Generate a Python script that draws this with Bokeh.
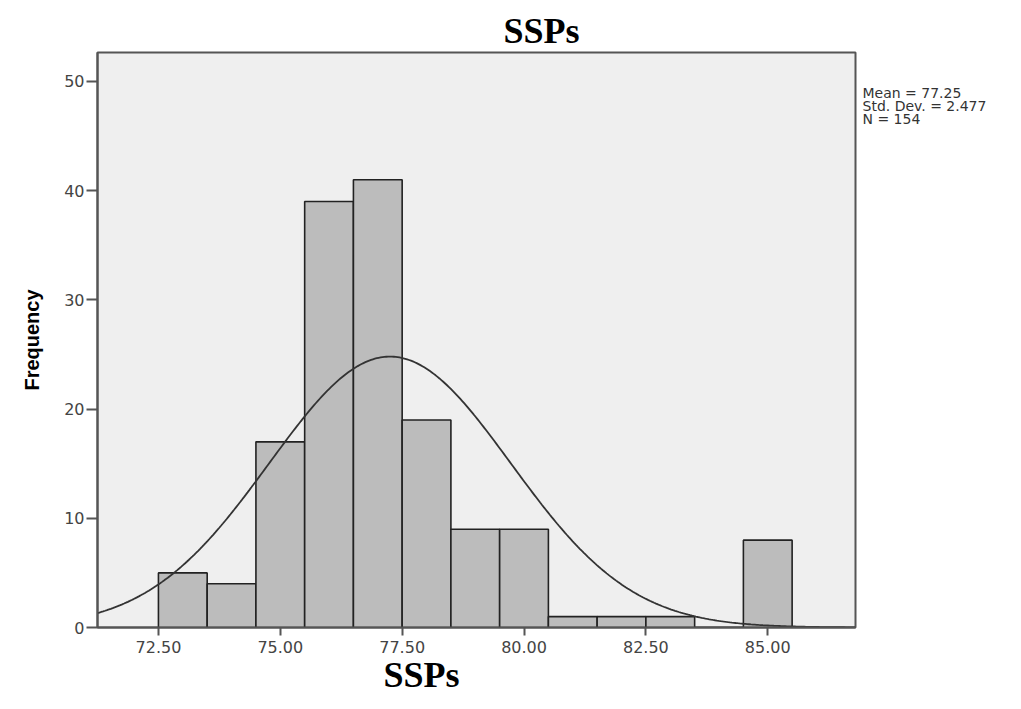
import numpy as np
from bokeh.plotting import figure
from bokeh.models import FixedTicker, Range1d, Title, LinearAxis
from bokeh.embed import file_html
from bokeh.resources import INLINE

# Data
bin_centers = [73, 74, 75, 76, 77, 78, 79, 80, 81, 82, 83, 84, 85]
counts = [5, 4, 17, 39, 41, 19, 9, 9, 1, 1, 1, 0, 8]
x_ticks = [72.5, 75.0, 77.5, 80.0, 82.5, 85.0]
x_tick_labels = ["72.50", "75.00", "77.50", "80.00", "82.50", "85.00"]
y_ticks = [0, 10, 20, 30, 40, 50]
MEAN = 77.25
SD = 2.477
N = 154
BIN_WIDTH = 1.0
stats_lines = [f"Mean = {MEAN:.2f}", f"Std. Dev. = {SD}", f"N = {N}"]
stats_pos = [48.95, 47.75, 46.55]

p = figure(width=1005, height=693, output_backend="svg", toolbar_location=None,
           x_range=Range1d(71.25, 86.8), y_range=Range1d(0, 52.65),
           min_border_left=97, min_border_right=150, min_border_top=52, min_border_bottom=66)
p.background_fill_color = "#efefef"
p.border_fill_color = "white"
p.outline_line_color = "#555555"
p.outline_line_width = 2
p.xgrid.visible = False
p.ygrid.visible = False

p.vbar(x=bin_centers, top=counts, width=BIN_WIDTH, bottom=0, fill_color="#bcbcbc",
       line_color="#222222", line_width=1.6)

# fitted normal curve from stated mean, sd, N
xs = np.linspace(71.25, 86.8, 400)
ys = N * BIN_WIDTH / (SD * np.sqrt(2 * np.pi)) * np.exp(-0.5 * ((xs - MEAN) / SD) ** 2)
p.line(xs, ys, line_color="#333333", line_width=1.8)

p.xaxis.ticker = FixedTicker(ticks=x_ticks)
p.xaxis.major_label_overrides = {t: l for t, l in zip(x_ticks, x_tick_labels)}
p.yaxis.ticker = FixedTicker(ticks=y_ticks)
for ax in (p.xaxis, p.yaxis):
    ax.minor_tick_line_color = None
    ax.axis_line_color = "#555555"
    ax.axis_line_width = 2
    ax.major_tick_line_color = "#555555"
    ax.major_tick_line_width = 2
    ax.major_tick_in = 0
    ax.major_label_text_font = "DejaVu Sans"
    ax.major_label_text_font_size = "16px"
    ax.major_label_text_color = "#444444"
p.xaxis.major_tick_out = 8
p.yaxis.major_tick_out = 11
p.yaxis.major_label_standoff = 2
p.xaxis.major_label_standoff = 5

p.yaxis.axis_label = "Frequency"
p.yaxis.axis_label_text_font = "Liberation Sans"
p.yaxis.axis_label_text_font_style = "bold"
p.yaxis.axis_label_text_font_size = "20px"
p.yaxis.axis_label_text_color = "black"
p.yaxis.axis_label_standoff = 18

# stats text via a label-only right axis
stats_axis = LinearAxis(ticker=FixedTicker(ticks=stats_pos),
                        major_label_overrides={v: s for v, s in zip(stats_pos, stats_lines)})
stats_axis.axis_line_color = None
stats_axis.major_tick_line_color = None
stats_axis.minor_tick_line_color = None
stats_axis.major_tick_out = 0
stats_axis.major_tick_in = 0
stats_axis.major_label_standoff = 7
stats_axis.major_label_text_font = "DejaVu Sans"
stats_axis.major_label_text_font_size = "14px"
stats_axis.major_label_text_color = "#333333"
p.add_layout(stats_axis, "right")

# top title
p.title = Title(text="SSPs", align="left", offset=406, text_font="Liberation Serif",
                text_font_style="bold", text_font_size="36px", text_color="black", standoff=3)
# bottom label
p.add_layout(Title(text="SSPs", align="left", offset=286, text_font="Liberation Serif",
                   text_font_style="bold", text_font_size="36px", text_color="black",
                   standoff=-6), "below")

open("out.html", "w").write(file_html(p, INLINE))
